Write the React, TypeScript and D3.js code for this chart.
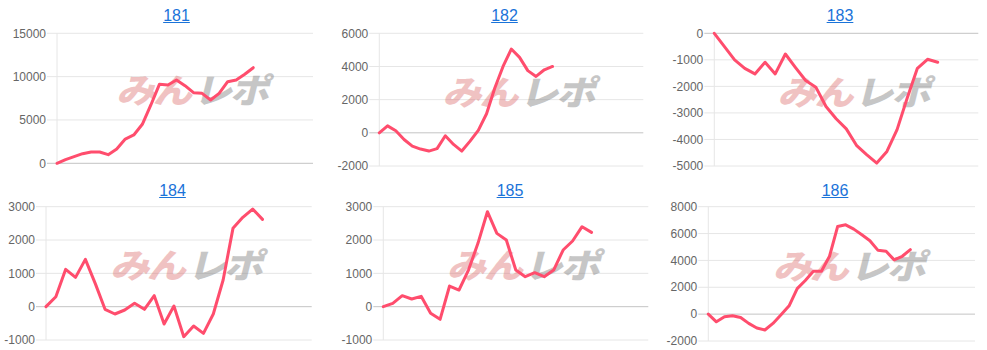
import React from "react";
import * as d3 from "d3";

// ---- data ----
const titles = ["181", "182", "183", "184", "185", "186"];

const categoryCounts = [31, 33, 27, 28, 29, 34];

const series181 = [0, 420, 770, 1110, 1300, 1300, 1000, 1650, 2800, 3270, 4500, 6730, 9110, 9030, 9610, 8960, 8150, 8070, 7300, 8070, 9420, 9610, 10270, 11030];
const series182 = [0, 420, 120, -400, -800, -980, -1100, -950, -180, -700, -1100, -500, 150, 1150, 2700, 4000, 5050, 4550, 3750, 3400, 3800, 4000];
const series183 = [0, -500, -1000, -1320, -1530, -1090, -1530, -780, -1290, -1780, -2030, -2760, -3220, -3600, -4220, -4570, -4890, -4450, -3630, -2440, -1320, -980, -1090];
const series184 = [0, 300, 1120, 880, 1420, 700, -80, -220, -100, 100, -80, 330, -520, 20, -900, -580, -800, -220, 800, 2350, 2680, 2930, 2620];
const series185 = [0, 100, 330, 230, 310, -200, -380, 620, 500, 1100, 1900, 2850, 2200, 2000, 1100, 900, 1020, 900, 1100, 1700, 1970, 2400, 2230];
const series186 = [0, -570, -200, -120, -250, -690, -1030, -1180, -690, -50, 620, 1900, 2510, 3200, 3200, 4310, 6520, 6650, 6330, 5910, 5470, 4750, 4680, 4040, 4310, 4800];

const yTicks181 = [0, 5000, 10000, 15000];
const yTicks182 = [-2000, 0, 2000, 4000, 6000];
const yTicks183 = [-5000, -4000, -3000, -2000, -1000, 0];
const yTicks184 = [-1000, 0, 1000, 2000, 3000];
const yTicks185 = [-1000, 0, 1000, 2000, 3000];
const yTicks186 = [-2000, 0, 2000, 4000, 6000, 8000];

const allSeries = [series181, series182, series183, series184, series185, series186];
const allTicks = [yTicks181, yTicks182, yTicks183, yTicks184, yTicks185, yTicks186];

// ---- layout ----
const plotBoxes = [
  { left: 57, right: 313, top: 33.3, bottom: 163.3, titleX: 176.5, titleY: 20.5 },
  { left: 379.3, right: 643.3, top: 33.3, bottom: 166, titleX: 504.5, titleY: 20.5 },
  { left: 714.3, right: 978.3, top: 33.3, bottom: 166, titleX: 840, titleY: 20.5 },
  { left: 46, right: 311.7, top: 206.7, bottom: 340, titleX: 172.5, titleY: 195.5 },
  { left: 383.3, right: 648.3, top: 206.7, bottom: 340, titleX: 510, titleY: 195.5 },
  { left: 708.3, right: 975, top: 206.7, bottom: 341, titleX: 835, titleY: 195.5 },
];

const LINE_COLOR = "#ff4d6d";
const GRID = "#e6e6e6";
const ZERO = "#c4c4c4";
const TICK_TEXT = "#666";
const TITLE_COLOR = "#1a73d9";
const FONT = "'Liberation Sans', Arial, Helvetica, sans-serif";

function Panel({ idx }: { idx: number }) {
  const b = plotBoxes[idx];
  const data = allSeries[idx];
  const ticks = allTicks[idx];
  const n = categoryCounts[idx];
  const x = d3.scalePoint<number>().domain(d3.range(n)).range([b.left, b.right]).padding(0);
  const y = d3
    .scaleLinear()
    .domain([ticks[0], ticks[ticks.length - 1]])
    .range([b.bottom, b.top]);
  const line = d3
    .line<number>()
    .x((_, i) => x(i) as number)
    .y((d) => y(d));
  const cx = (b.left + b.right) / 2 + 9;
  const cy = (b.top + b.bottom) / 2 - 7;
  const title = titles[idx];
  const tw = title.length * 8.9;
  return (
    <g>
      {/* title */}
      <text x={b.titleX} y={b.titleY} textAnchor="middle" fontFamily={FONT} fontSize={16} fill={TITLE_COLOR}>
        {title}
      </text>
      <line x1={b.titleX - tw / 2} x2={b.titleX + tw / 2} y1={b.titleY + 2} y2={b.titleY + 2} stroke={TITLE_COLOR} strokeWidth={1} />
      {/* grid */}
      {ticks.map((t) => (
        <g key={t}>
          <line
            x1={b.left - 10}
            x2={b.right}
            y1={y(t)}
            y2={y(t)}
            stroke={t === 0 ? ZERO : GRID}
            strokeWidth={1}
          />
          <text
            x={b.left - 11}
            y={y(t)}
            dy="0.35em"
            textAnchor="end"
            fontFamily={FONT}
            fontSize={12}
            fill={TICK_TEXT}
          >
            {t}
          </text>
        </g>
      ))}
      <line x1={b.left} x2={b.left} y1={b.top} y2={b.bottom} stroke={GRID} strokeWidth={1} />
      {/* watermark */}
      <g transform={`translate(${cx},${cy}) skewX(-14) scale(1.15,1)`} opacity={0.42}>
        <text
          x={-1}
          y={12}
          textAnchor="end"
          fontFamily="'Noto Sans CJK JP', sans-serif"
          fontWeight={900}
          fontSize={34}
          fill="#dd7070"
          letterSpacing={-2}
        >
          みん
        </text>
        <text
          x={2}
          y={12}
          textAnchor="start"
          fontFamily="'Noto Sans CJK JP', sans-serif"
          fontWeight={900}
          fontSize={34}
          fill="#7a7a7a"
          letterSpacing={-2}
        >
          レポ
        </text>
      </g>
      {/* line */}
      <path d={line(data) || ""} fill="none" stroke={LINE_COLOR} strokeWidth={3} strokeLinejoin="round" strokeLinecap="round" />
    </g>
  );
}

export default function App() {
  return (
    <svg
      width={987}
      height={350}
      style={{ position: "absolute", left: 0, top: 0, background: "#fff" }}
    >
      <rect width={987} height={350} fill="#fff" />
      {titles.map((_, i) => (
        <Panel key={i} idx={i} />
      ))}
    </svg>
  );
}
